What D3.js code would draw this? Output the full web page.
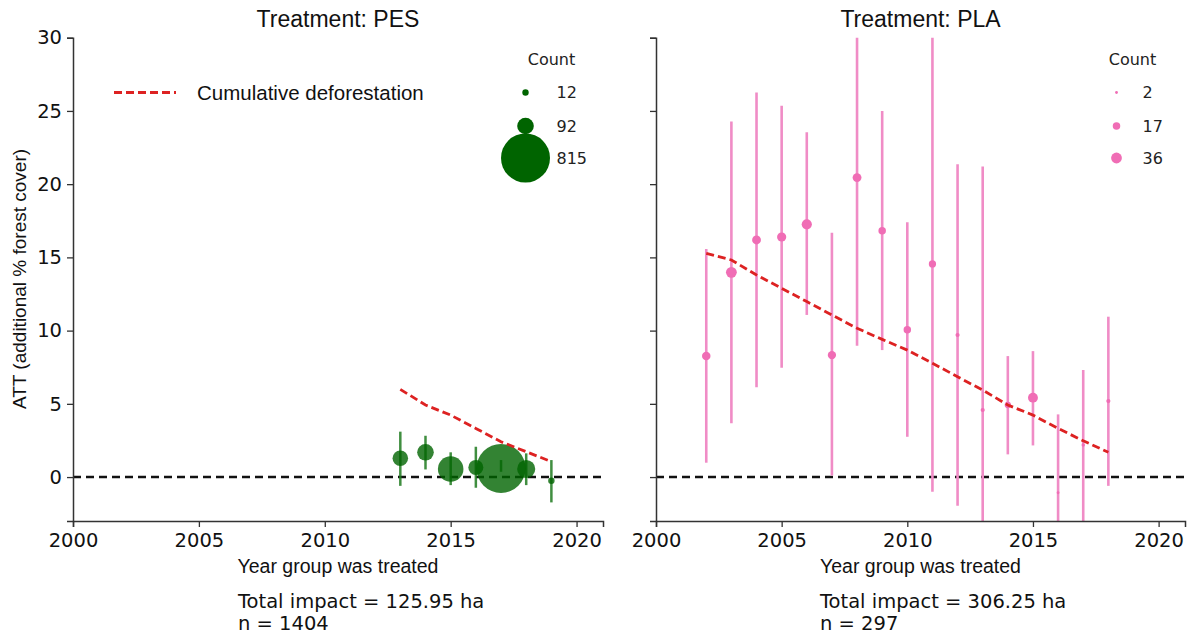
<!DOCTYPE html>
<html>
<head>
<meta charset="utf-8">
<script src="https://cdn.jsdelivr.net/npm/d3@7"></script>
<style>
  body { margin: 0; background: #fff; }
  svg { display: block; }
</style>
</head>
<body>
<svg id="chart" width="1188" height="634"></svg>
<script>
// PES panel
var pesYears = [2013, 2014, 2015, 2016, 2017, 2018, 2019];
var pesAtt = [1.28, 1.69, 0.55, 0.66, 0.59, 0.55, -0.25];
var pesLow = [-0.6, 0.52, -0.55, -0.73, 0.36, -0.55, -1.73];
var pesHigh = [3.1, 2.82, 1.69, 2.07, 1.16, 1.62, 1.16];
var pesCount = [80, 92, 220, 75, 815, 110, 12];
var pesCum = [5.99, 4.92, 4.23, 3.32, 2.41, 1.73, 1.05];
var pesLegend = [12, 92, 815];

// PLA panel
var plaYears = [2002, 2003, 2004, 2005, 2006, 2007, 2008, 2009, 2010, 2011, 2012, 2013, 2014, 2015, 2016, 2017, 2018];
var plaAtt = [8.27, 13.98, 16.19, 16.39, 17.26, 8.33, 20.45, 16.82, 10.06, 14.55, 9.7, 4.58, 4.92, 5.42, -1.07, 2.19, 5.19];
var plaLow = [0.98, 3.67, 6.13, 7.47, 11.07, 0.1, 8.97, 8.67, 2.75, -1.0, -1.96, -4, 1.55, 2.16, -4, -4, -0.6];
var plaHigh = [15.57, 24.27, 26.25, 25.36, 23.54, 16.69, 32, 25.0, 17.4, 32, 21.36, 21.2, 8.26, 8.6, 4.28, 7.31, 10.95];
var plaCount = [22, 36, 24, 26, 32, 21, 24, 17, 17, 16, 5, 5, 12, 30, 2, 3, 5];
var plaCum = [15.28, 14.82, 13.8, 12.89, 11.98, 11.07, 10.16, 9.4, 8.67, 7.77, 6.85, 5.94, 4.92, 4.23, 3.32, 2.48, 1.69];
var plaLegend = [2, 17, 36];

var xTicks = [2000, 2005, 2010, 2015, 2020];
var yTicks = [0, 5, 10, 15, 20, 25, 30];

var sans = '"Liberation Sans", Arial, sans-serif';
var deja = '"DejaVu Sans", sans-serif';

var svg = d3.select('#chart');

var yScale = d3.scaleLinear().domain([-3, 30]).range([521, 37.7]);

function toRows(years, att, low, high, count, cum) {
  return years.map(function(y, i) {
    return {year: y, att: att[i], low: low[i], high: high[i], count: count[i], cum: cum[i]};
  });
}

function dibujarPanel(opts) {
  var x = d3.scaleLinear().domain([2000, 2021.05]).range(opts.range);
  var rows = toRows(opts.years, opts.att, opts.low, opts.high, opts.count, opts.cum);
  var g = svg.append('g');

  var clipId = 'clip' + opts.id;
  svg.append('clipPath').attr('id', clipId)
    .append('rect')
    .attr('x', opts.range[0]).attr('y', yScale(30))
    .attr('width', opts.range[1] - opts.range[0])
    .attr('height', yScale(-3) - yScale(30));

  var plot = g.append('g').attr('clip-path', 'url(#' + clipId + ')');

  // zero line
  plot.append('line')
    .attr('x1', opts.range[0]).attr('x2', opts.range[1])
    .attr('y1', yScale(0)).attr('y2', yScale(0))
    .attr('stroke', '#111').attr('stroke-width', 2.4)
    .attr('stroke-dasharray', '8,5');

  // error bars
  plot.selectAll('.err')
    .data(rows)
    .join('line')
    .attr('class', 'err')
    .attr('x1', function(d) { return x(d.year); })
    .attr('x2', function(d) { return x(d.year); })
    .attr('y1', function(d) { return yScale(d.low); })
    .attr('y2', function(d) { return yScale(d.high); })
    .attr('stroke', opts.barColor)
    .attr('stroke-opacity', opts.barOpacity)
    .attr('stroke-width', opts.barWidth);

  // points
  plot.selectAll('.dot')
    .data(rows)
    .join('circle')
    .attr('class', 'dot')
    .attr('cx', function(d) { return x(d.year); })
    .attr('cy', function(d) { return yScale(d.att); })
    .attr('r', function(d) { return opts.size(d.count); })
    .attr('fill', opts.dotColor)
    .attr('fill-opacity', opts.dotOpacity);

  // cumulative deforestation
  plot.append('path')
    .datum(rows)
    .attr('fill', 'none')
    .attr('stroke', '#dd2222')
    .attr('stroke-width', 2.8)
    .attr('stroke-dasharray', '8,4')
    .attr('d', d3.line()
      .x(function(d) { return x(d.year); })
      .y(function(d) { return yScale(d.cum); }));

  // axes
  var xAxis = g.append('g')
    .attr('transform', 'translate(0,' + yScale(-3) + ')')
    .call(d3.axisBottom(x).tickValues(xTicks).tickFormat(d3.format('d')).tickSizeOuter(0).tickSize(6).tickPadding(6));
  xAxis.select('.domain').attr('stroke', '#333').attr('stroke-width', 1.5);
  xAxis.selectAll('.tick line').attr('stroke', '#333').attr('stroke-width', 1.3);
  xAxis.selectAll('.tick text').attr('font-family', deja).attr('font-size', 19.5).attr('fill', '#111');

  var yAxis = g.append('g')
    .attr('transform', 'translate(' + opts.range[0] + ',0)')
    .call(d3.axisLeft(yScale).tickValues(yTicks).tickSizeOuter(0).tickSize(6).tickPadding(5)
      .tickFormat(opts.yLabels ? d3.format('d') : ''));
  yAxis.select('.domain').attr('stroke', '#333').attr('stroke-width', 1.5);
  yAxis.selectAll('.tick line').attr('stroke', '#333').attr('stroke-width', 1.3);
  yAxis.selectAll('.tick text').attr('font-family', deja).attr('font-size', 19.5).attr('fill', '#111');

  var cx = (opts.range[0] + opts.range[1]) / 2;

  g.append('text')
    .attr('x', cx).attr('y', 27)
    .attr('text-anchor', 'middle')
    .attr('font-family', sans).attr('font-size', 23).attr('fill', '#111')
    .text(opts.title);

  g.append('text')
    .attr('x', cx).attr('y', 573)
    .attr('text-anchor', 'middle')
    .attr('font-family', sans).attr('font-size', 19.5).attr('fill', '#111')
    .text('Year group was treated');

  g.append('text')
    .attr('x', opts.noteX).attr('y', 608)
    .attr('font-family', deja).attr('font-size', 19.5).attr('fill', '#111')
    .text(opts.impact);

  g.append('text')
    .attr('x', opts.noteX).attr('y', 630)
    .attr('font-family', deja).attr('font-size', 19.5).attr('fill', '#111')
    .text(opts.n);

  // size legend
  var leg = g.append('g');
  leg.append('text')
    .attr('x', opts.legX + opts.titleDx).attr('y', 59)
    .attr('dy', '0.35em')
    .attr('text-anchor', 'middle')
    .attr('font-family', deja).attr('font-size', 16).attr('fill', '#222')
    .text('Count');

  var legY = [92.5, 126, 158];
  opts.legend.forEach(function(v, i) {
    leg.append('circle')
      .attr('cx', opts.legX).attr('cy', legY[i])
      .attr('r', opts.size(v))
      .attr('fill', opts.legColor);
    leg.append('text')
      .attr('x', opts.legX + opts.labelDx).attr('y', legY[i])
      .attr('dy', '0.35em')
      .attr('font-family', deja).attr('font-size', 16).attr('fill', '#222')
      .text(v);
  });
}

dibujarPanel({
  id: 'pes', range: [73, 603], title: 'Treatment: PES', yLabels: true,
  years: pesYears, att: pesAtt, low: pesLow, high: pesHigh, count: pesCount, cum: pesCum,
  size: d3.scaleRadial().domain([12, 815]).range([3.2, 24.5]),
  dotColor: '#006400', dotOpacity: 0.8, legColor: '#006400',
  barColor: '#1f7a1f', barOpacity: 0.85, barWidth: 2.5,
  legend: pesLegend, legX: 525.5, labelDx: 31, titleDx: 26,
  noteX: 238, impact: 'Total impact = 125.95 ha', n: 'n = 1404'
});

dibujarPanel({
  id: 'pla', range: [656, 1185], title: 'Treatment: PLA', yLabels: false,
  years: plaYears, att: plaAtt, low: plaLow, high: plaHigh, count: plaCount, cum: plaCum,
  size: d3.scaleRadial().domain([2, 36]).range([1.4, 5.4]),
  dotColor: '#f06db5', dotOpacity: 1, legColor: '#f06db5',
  barColor: '#f08cc6', barOpacity: 1, barWidth: 2.6,
  legend: plaLegend, legX: 1116.5, labelDx: 26, titleDx: 16,
  noteX: 820, impact: 'Total impact = 306.25 ha', n: 'n = 297'
});

// line legend (left panel)
svg.append('line')
  .attr('x1', 114).attr('x2', 176)
  .attr('y1', 92.5).attr('y2', 92.5)
  .attr('stroke', '#dd2222').attr('stroke-width', 2.8)
  .attr('stroke-dasharray', '8,4');
svg.append('text')
  .attr('x', 197).attr('y', 92.5).attr('dy', '0.35em')
  .attr('font-family', sans).attr('font-size', 20.5).attr('fill', '#111')
  .text('Cumulative deforestation');

// y label
svg.append('text')
  .attr('transform', 'translate(26,279) rotate(-90)')
  .attr('text-anchor', 'middle')
  .attr('font-family', sans).attr('font-size', 19).attr('fill', '#111')
  .text('ATT (additional % forest cover)');
</script>
</body>
</html>
